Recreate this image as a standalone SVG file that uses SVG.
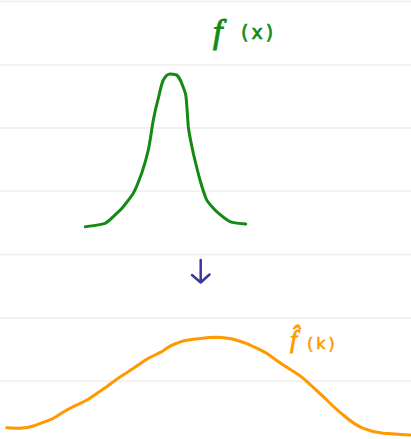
<svg xmlns="http://www.w3.org/2000/svg" width="411" height="439" viewBox="0 0 411 439">
<style>
.rule{stroke:#f2f2f2;stroke-width:2;fill:none}
.curve{fill:none;stroke-width:3;stroke-linecap:round;stroke-linejoin:round}
.f{font-family:"Liberation Serif",serif;font-style:italic}
.arg{font-family:"DejaVu Sans",sans-serif;letter-spacing:3px}
</style>
<rect width="411" height="439" fill="#ffffff"/>
<g id="rules">
<line class="rule" x1="0" y1="1.5" x2="411" y2="1.5"/>
<line class="rule" x1="0" y1="64.8" x2="411" y2="64.8"/>
<line class="rule" x1="0" y1="128" x2="411" y2="128"/>
<line class="rule" x1="0" y1="191.3" x2="411" y2="191.3"/>
<line class="rule" x1="0" y1="254.6" x2="411" y2="254.6"/>
<line class="rule" x1="0" y1="318" x2="411" y2="318"/>
<line class="rule" x1="0" y1="381.2" x2="411" y2="381.2"/>
</g>
<g id="fx">
<path class="curve" stroke="#138a13" d="M85.3,226.7 C95,225.5 100,225 105,223.3 C109,221.5 110,219.5 113.3,216.7 C117,213 120,210.5 123.3,206.7 C127,202 130,198.5 133.3,193.3 C137,186.5 139,180 141.7,173.3 C144.5,165 146.5,158 148.3,150 C150.5,140 151.5,130 153.3,120 C155,111 156.5,105 158.3,98.3 C160,92 161,85 163.3,80 C165.5,76 167.5,74 170,74 C173,74 175,74.5 176.7,75 C179,77 180.5,80 181.7,83.3 C183.5,88 185.5,92 186,96.7 C187,106 187.5,117 188.3,126.7 C189.5,136 191.5,144.5 193.3,153.3 C195.5,162.5 197.5,171 200,180 C202,187 204,194 206.7,200 C209.5,204.5 213,208 216.7,211.7 C221,215.5 225,219 230,221.7 C235,223.5 241,223.6 245.7,224"/>
<text class="f" fill="#138a13" x="213" y="43" font-size="34" stroke="#138a13" stroke-width="1">f</text>
<text class="arg" fill="#138a13" x="241" y="39" font-size="19" stroke="#138a13" stroke-width="0.7">(x)</text>
</g>
<g id="connectors">
<path d="M200.7,260 L200.7,282.5 M192,275 L200.7,282.5 L209.5,274.5" fill="none" stroke="#3838a0" stroke-width="2.5" stroke-linecap="round" stroke-linejoin="round"/>
</g>
<g id="fk">
<path class="curve" stroke="#ff9900" d="M6.7,427.7 C12,428 16,428.5 20,428.3 C25,428 29,427.5 33.3,426 C40,423.5 47,421 53.3,418.3 C59,415 64,411 70,408.3 C76,405 82,403 88.3,399.3 C95,395 100,391 106.7,386.7 C113,382 119,377 126.7,372.7 C133,368.5 140,364 146.7,359.3 C152,356 158,354 163.3,350.7 C168,347.5 171,345 176.7,343.3 C182,341 187,340 193.3,339.3 C201,338.5 209,337.3 216.7,337.3 C222,337.5 228,338 233.3,339.3 C239,341 244,342.5 250,345 C256,348 261,350 266.7,353.3 C272,357 277,361 283.3,365 C290,369.5 297,373 303.3,378.3 C310,384 316,390 323.3,396.7 C330,403 336,409.5 343.3,415 C349,420 355,425 363.3,428.3 C370,431 376,432.5 383.3,433.3 C392,434 401,434.5 410,435"/>
<text class="f" fill="#ff9900" x="290" y="348" font-size="26" stroke="#ff9900" stroke-width="0.8">f&#770;</text>
<text class="arg" fill="#ff9900" x="307" y="349" font-size="16" stroke="#ff9900" stroke-width="0.6">(k)</text>
</g>
</svg>
